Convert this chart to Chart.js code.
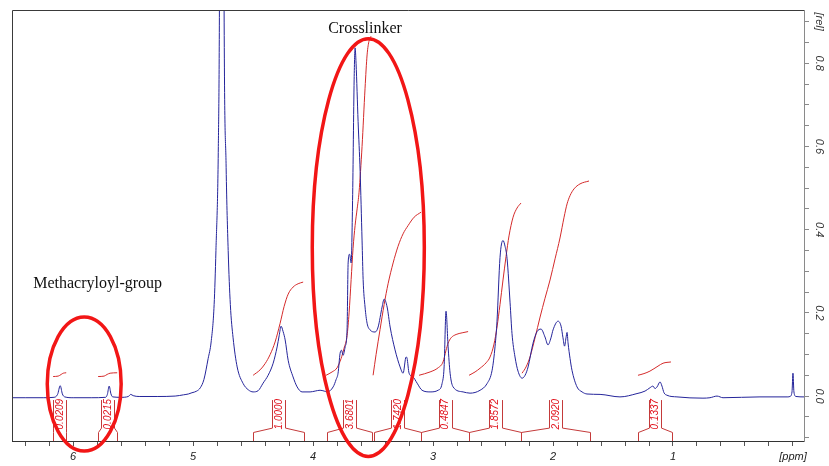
<!DOCTYPE html>
<html>
<head>
<meta charset="utf-8">
<script src="https://cdn.jsdelivr.net/npm/chart.js@4.4.1/dist/chart.umd.min.js"></script>
<style>
  html, body { margin: 0; padding: 0; background: #ffffff; }
  #wrap { width: 829px; height: 466px; }
</style>
</head>
<body>
<div id="wrap"><canvas id="nmr" width="829" height="466"></canvas></div>
<script>
// 1H NMR spectrum: chemical shift (ppm) and relative intensity
const specPpm = [6.51, 6.40, 6.25, 6.16, 6.13, 6.108, 6.09, 6.07, 6.00, 5.85,
  5.73, 5.715, 5.70, 5.685, 5.67, 5.60, 5.54, 5.52, 5.50, 5.45,
  5.30, 5.15, 5.08, 5.04, 5.01, 4.97, 4.94, 4.91, 4.875, 4.85,
  4.825, 4.81, 4.79, 4.781, 4.771, 4.762, 4.752, 4.742, 4.725, 4.708,
  4.69, 4.667, 4.633, 4.583, 4.54, 4.50, 4.458, 4.417, 4.375, 4.333,
  4.30, 4.283, 4.267, 4.25, 4.233, 4.208, 4.167, 4.133, 4.092, 4.025,
  3.983, 3.942, 3.908, 3.883, 3.833, 3.808, 3.792, 3.775, 3.763, 3.75,
  3.733, 3.717, 3.708, 3.696, 3.683, 3.671, 3.658, 3.65, 3.642, 3.625,
  3.608, 3.592, 3.583, 3.567, 3.55, 3.525, 3.483, 3.458, 3.425, 3.408,
  3.383, 3.358, 3.317, 3.275, 3.25, 3.225, 3.217, 3.20, 3.167, 3.133,
  3.092, 3.025, 2.958, 2.925, 2.908, 2.892, 2.875, 2.858, 2.833, 2.75,
  2.692, 2.608, 2.55, 2.508, 2.483, 2.467, 2.442, 2.417, 2.40, 2.383,
  2.358, 2.342, 2.317, 2.292, 2.258, 2.233, 2.208, 2.167, 2.133, 2.10,
  2.067, 2.042, 2.017, 2.00, 1.958, 1.933, 1.917, 1.904, 1.892, 1.883,
  1.875, 1.858, 1.842, 1.80, 1.758, 1.717, 1.608, 1.442, 1.30, 1.233,
  1.192, 1.167, 1.15, 1.133, 1.108, 1.092, 1.075, 1.05, 0.967, 0.75,
  0.692, 0.633, 0.583, 0.275, 0.042, 0.025, 0.008, 0.0, -0.008, -0.025,
  -0.092];
const specInt = [-0.004, -0.004, -0.004, -0.003, 0.004, 0.025, 0.005, -0.002, -0.004, -0.004,
  -0.003, 0.004, 0.024, 0.005, -0.002, -0.003, -0.001, 0.004, 0.001, -0.001,
  -0.001, 0.000, 0.003, 0.005, 0.008, 0.012, 0.020, 0.040, 0.090, 0.130,
  0.220, 0.350, 0.600, 0.930, 2.000, 3.500, 2.000, 0.930, 0.550, 0.350,
  0.220, 0.140, 0.070, 0.030, 0.015, 0.010, 0.013, 0.031, 0.050, 0.079,
  0.118, 0.145, 0.168, 0.155, 0.135, 0.086, 0.046, 0.022, 0.010, 0.010,
  0.012, 0.014, 0.012, 0.010, 0.022, 0.040, 0.055, 0.103, 0.110, 0.098,
  0.118, 0.159, 0.320, 0.341, 0.320, 0.470, 0.760, 0.837, 0.800, 0.660,
  0.540, 0.375, 0.280, 0.214, 0.175, 0.159, 0.154, 0.166, 0.214, 0.233,
  0.214, 0.166, 0.111, 0.070, 0.055, 0.094, 0.091, 0.055, 0.046, 0.031,
  0.014, 0.010, 0.014, 0.030, 0.070, 0.204, 0.120, 0.055, 0.022, 0.010,
  0.007, 0.014, 0.030, 0.062, 0.120, 0.180, 0.333, 0.374, 0.360, 0.330,
  0.224, 0.150, 0.094, 0.060, 0.043, 0.050, 0.070, 0.127, 0.155, 0.161,
  0.142, 0.123, 0.140, 0.159, 0.180, 0.168, 0.140, 0.120, 0.140, 0.153,
  0.128, 0.090, 0.062, 0.022, 0.010, 0.005, 0.004, -0.002, 0.006, 0.012,
  0.020, 0.024, 0.018, 0.022, 0.034, 0.024, 0.008, 0.002, -0.002, -0.005,
  -0.004, 0.000, -0.004, -0.002, -0.002, -0.001, 0.010, 0.055, 0.010, -0.001,
  -0.002];

// Integral traces (ppm, running integral height)
const int1Ppm = [6.167, 6.125, 6.10, 6.083, 6.058];
const int1Val = [0.047, 0.048, 0.052, 0.055, 0.056];
const int2Ppm = [5.792, 5.742, 5.717, 5.692, 5.633];
const int2Val = [0.047, 0.048, 0.052, 0.055, 0.056];
const int3Ppm = [4.5, 4.442, 4.4, 4.358, 4.317, 4.275, 4.242, 4.208, 4.167, 4.125, 4.083];
const int3Val = [0.05, 0.063, 0.078, 0.10, 0.13, 0.175, 0.215, 0.245, 0.262, 0.27, 0.274];
const int4Ppm = [3.892, 3.842, 3.8, 3.767, 3.742, 3.717, 3.7, 3.683, 3.667, 3.65, 3.633, 3.617, 3.592, 3.567, 3.55, 3.533, 3.517];
const int4Val = [0.05, 0.058, 0.068, 0.09, 0.115, 0.145, 0.2, 0.28, 0.355, 0.41, 0.45, 0.49, 0.6, 0.74, 0.82, 0.855, 0.865];
const int5Ppm = [3.5, 3.475, 3.442, 3.408, 3.375, 3.333, 3.292, 3.25, 3.208, 3.158, 3.1];
const int5Val = [0.05, 0.10, 0.16, 0.22, 0.27, 0.32, 0.36, 0.39, 0.41, 0.43, 0.442];
const int6Ppm = [3.117, 3.025, 2.958, 2.917, 2.892, 2.875, 2.85, 2.808, 2.758, 2.708];
const int6Val = [0.05, 0.058, 0.068, 0.082, 0.11, 0.127, 0.14, 0.148, 0.152, 0.155];
const int7Ppm = [2.7, 2.65, 2.608, 2.558, 2.525, 2.492, 2.467, 2.442, 2.417, 2.392, 2.367, 2.333, 2.3, 2.267];
const int7Val = [0.05, 0.058, 0.067, 0.08, 0.094, 0.125, 0.166, 0.22, 0.279, 0.335, 0.385, 0.43, 0.452, 0.464];
const int8Ppm = [2.258, 2.225, 2.192, 2.15, 2.108, 2.067, 2.025, 1.983, 1.942, 1.908, 1.883, 1.858, 1.825, 1.775, 1.7];
const int8Val = [0.055, 0.07, 0.094, 0.14, 0.19, 0.235, 0.279, 0.33, 0.38, 0.43, 0.462, 0.482, 0.498, 0.51, 0.517];
const int9Ppm = [1.292, 1.242, 1.192, 1.125, 1.083, 1.017];
const int9Val = [0.05, 0.054, 0.06, 0.072, 0.079, 0.082];

// Integration regions (start / end ppm) and their integral values
const regionHi = [6.167, 5.792, 4.5, 3.883, 3.492, 3.1, 2.7, 2.267, 1.292];
const regionLo = [6.058, 5.633, 4.075, 3.508, 3.1, 2.7, 2.267, 1.692, 1.008];
const regionLabels = ['0.0209', '0.0215', '1.0000', '3.6801', '1.7420', '0.4847', '1.8572', '2.0920', '0.1337'];

// Axis ticks
const xTickValues = [6.4, 6.2, 6.0, 5.8, 5.6, 5.4, 5.2, 5.0, 4.8, 4.6, 4.4, 4.2, 4.0, 3.8, 3.6, 3.4, 3.2, 3.0,
  2.8, 2.6, 2.4, 2.2, 2.0, 1.8, 1.6, 1.4, 1.2, 1.0, 0.8, 0.6, 0.4, 0.2, 0.0];
const xLabelValues = [6, 5, 4, 3, 2, 1];
const xUnitLabel = '[ppm]';
const yTickValues = [-0.1, -0.05, 0.0, 0.05, 0.1, 0.15, 0.2, 0.25, 0.3, 0.35, 0.4, 0.45, 0.5, 0.55, 0.6, 0.65,
  0.7, 0.75, 0.8, 0.85, 0.9];
const yLabelValues = [0.0, 0.2, 0.4, 0.6, 0.8];
const yLabelTexts = ['0.0', '0.2', '0.4', '0.6', '0.8'];
const yUnitValue = 0.9;
const yUnitLabel = '[rel]';

// Highlighted groups (centre and radii in ppm / rel units)
const groupNames = ['Crosslinker', 'Methacryloyl-group'];
const groupTextAt = [[3.567, 0.882], [5.796, 0.269]];
const groupEllipses = [[3.54, 0.357, 0.467, 0.502], [5.908, 0.029, 0.308, 0.161]];

const toPoints = (xs, ys) => xs.map((x, i) => ({ x: x, y: ys[i] }));

const SPEC_COLOR = '#24249a';
const INT_COLOR = '#d42a2a';
const BRACKET_COLOR = '#c43a3a';
const LABEL_COLOR = '#e0101a';
const RING_COLOR = '#f21616';

const integralSets = [
  [int1Ppm, int1Val], [int2Ppm, int2Val], [int3Ppm, int3Val], [int4Ppm, int4Val], [int5Ppm, int5Val],
  [int6Ppm, int6Val], [int7Ppm, int7Val], [int8Ppm, int8Val], [int9Ppm, int9Val]
].map(([xs, ys]) => ({
  data: toPoints(xs, ys),
  showLine: true,
  borderColor: INT_COLOR,
  borderWidth: 1,
  pointRadius: 0,
  cubicInterpolationMode: 'monotone'
}));

// Frame, rotated y labels, integration brackets, highlight rings and captions
const decorations = {
  id: 'decorations',
  afterDatasetsDraw(chart) {
    const ctx = chart.ctx;
    const xs = chart.scales.x, ys = chart.scales.y;
    const area = chart.chartArea;

    // left and top frame lines
    ctx.save();
    ctx.strokeStyle = '#3a3a3a';
    ctx.lineWidth = 1;
    ctx.beginPath();
    ctx.moveTo(Math.round(area.left) + 0.5, Math.round(area.bottom));
    ctx.lineTo(Math.round(area.left) + 0.5, Math.round(area.top) + 0.5);
    ctx.lineTo(Math.round(area.right), Math.round(area.top) + 0.5);
    ctx.stroke();
    ctx.restore();

    // y labels, rotated to read downward
    ctx.save();
    ctx.fillStyle = '#333333';
    ctx.font = 'italic 11px "Liberation Sans", Arial, sans-serif';
    ctx.textAlign = 'center';
    ctx.textBaseline = 'middle';
    const lx = area.right + 15;
    const drawRot = (txt, v) => {
      ctx.save();
      ctx.translate(lx, ys.getPixelForValue(v));
      ctx.rotate(Math.PI / 2);
      ctx.fillText(txt, 0, 0);
      ctx.restore();
    };
    yLabelValues.forEach((v, i) => drawRot(yLabelTexts[i], v));
    drawRot(yUnitLabel, yUnitValue);
    ctx.restore();

    // integration brackets with their values
    const boxTop = ys.getPixelForValue(-0.0096);
    const boxBot = ys.getPixelForValue(-0.077);
    const legTop = ys.getPixelForValue(-0.0875);
    const legBot = area.bottom;
    const labelY = ys.getPixelForValue(-0.0435);
    const boxHalf = 0.054;
    ctx.save();
    ctx.strokeStyle = BRACKET_COLOR;
    ctx.lineWidth = 1;
    regionHi.forEach((hi, i) => {
      const lo = regionLo[i];
      const mid = (hi + lo) / 2;
      const xl = Math.round(xs.getPixelForValue(hi)) + 0.5;
      const xr = Math.round(xs.getPixelForValue(lo)) + 0.5;
      const bl = Math.round(xs.getPixelForValue(mid + boxHalf)) + 0.5;
      const br = Math.round(xs.getPixelForValue(mid - boxHalf)) + 0.5;
      ctx.beginPath();
      ctx.moveTo(xl, legBot);
      ctx.lineTo(xl, legTop);
      ctx.lineTo(bl, boxBot);
      ctx.lineTo(bl, boxTop);
      ctx.moveTo(xr, legBot);
      ctx.lineTo(xr, legTop);
      ctx.lineTo(br, boxBot);
      ctx.lineTo(br, boxTop);
      ctx.stroke();
      ctx.save();
      ctx.fillStyle = LABEL_COLOR;
      ctx.font = 'italic 10px "Liberation Sans", Arial, sans-serif';
      ctx.textAlign = 'center';
      ctx.textBaseline = 'middle';
      ctx.translate(xs.getPixelForValue(mid), labelY);
      ctx.rotate(-Math.PI / 2);
      ctx.fillText(regionLabels[i], 0, 0.5);
      ctx.restore();
    });
    ctx.restore();

    // highlight rings
    ctx.save();
    ctx.strokeStyle = RING_COLOR;
    ctx.lineWidth = 3.5;
    groupEllipses.forEach(([cx, cy, rx, ry]) => {
      const px = xs.getPixelForValue(cx);
      const py = ys.getPixelForValue(cy);
      const prx = Math.abs(xs.getPixelForValue(cx + rx) - px);
      const pry = Math.abs(ys.getPixelForValue(cy + ry) - py);
      ctx.beginPath();
      ctx.ellipse(px, py, prx, pry, 0, 0, Math.PI * 2);
      ctx.stroke();
    });
    ctx.restore();

    // captions
    ctx.save();
    ctx.fillStyle = '#111111';
    ctx.font = '16px "Liberation Serif", "Times New Roman", serif';
    ctx.textAlign = 'center';
    ctx.textBaseline = 'middle';
    groupNames.forEach((name, i) => {
      ctx.fillText(name, xs.getPixelForValue(groupTextAt[i][0]), ys.getPixelForValue(groupTextAt[i][1]));
    });
    ctx.restore();
  }
};

new Chart(document.getElementById('nmr'), {
  type: 'scatter',
  data: {
    datasets: [
      {
        data: toPoints(specPpm, specInt),
        showLine: true,
        borderColor: SPEC_COLOR,
        borderWidth: 1,
        pointRadius: 0,
        cubicInterpolationMode: 'monotone'
      },
      ...integralSets
    ]
  },
  options: {
    responsive: false,
    devicePixelRatio: 1,
    animation: false,
    events: [],
    layout: { padding: { left: 12, top: 10, right: 0, bottom: 0 } },
    plugins: { legend: { display: false }, tooltip: { enabled: false } },
    scales: {
      x: {
        type: 'linear',
        position: 'bottom',
        reverse: true,
        min: -0.092,
        max: 6.51,
        afterBuildTicks: (scale) => { scale.ticks = xTickValues.map(v => ({ value: v })); },
        afterFit: (scale) => { scale.height = 25; },
        border: { display: true, color: '#333333', width: 1 },
        grid: { drawOnChartArea: false, drawTicks: true, tickLength: 5, color: '#555555' },
        ticks: {
          autoSkip: false,
          maxRotation: 0,
          minRotation: 0,
          padding: 4,
          color: '#222222',
          font: { family: '"Liberation Sans", Arial, sans-serif', size: 11, style: 'italic' },
          callback: (v) => {
            if (v === 0) return xUnitLabel;
            return xLabelValues.includes(v) ? String(v) : '';
          }
        }
      },
      y: {
        type: 'linear',
        position: 'right',
        min: -0.108,
        max: 0.928,
        afterBuildTicks: (scale) => { scale.ticks = yTickValues.map(v => ({ value: v })); },
        afterFit: (scale) => { scale.width = 25; },
        border: { display: true, color: '#8a8a8a', width: 1 },
        grid: { drawOnChartArea: false, drawTicks: true, tickLength: 5, color: '#8a8a8a' },
        ticks: { display: false }
      }
    }
  },
  plugins: [decorations]
});
</script>
</body>
</html>
